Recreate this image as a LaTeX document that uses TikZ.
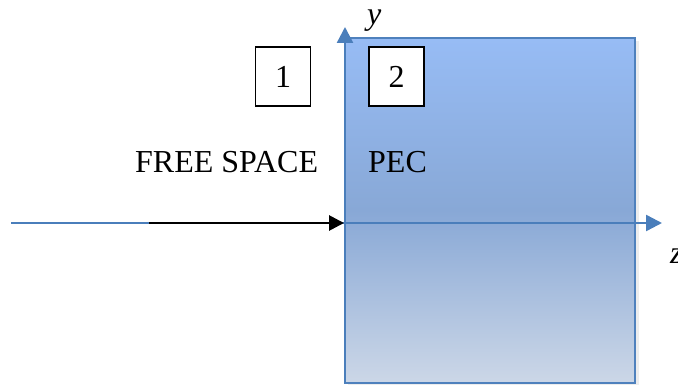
\documentclass[tikz,border=0pt]{standalone}
\usepackage{fontspec}
\setmainfont{Liberation Serif}
\usetikzlibrary{arrows.meta}
\definecolor{axisblue}{HTML}{4A7EBB}
\definecolor{edgeblue}{HTML}{4F81BD}
\definecolor{pectop}{HTML}{97BCF5}
\definecolor{pecmid}{HTML}{88A8D6}
\definecolor{pecbot}{HTML}{CCD7E7}
\tikzset{
  axis/.style={draw=axisblue, line width=2.4pt, -{Triangle[length=16pt,width=16pt]}},
  wave/.style={draw=black, line width=2.8pt, -{Triangle[length=15pt,width=15pt]}},
  labelbox/.style={draw=black, line width=1.3pt, fill=white, minimum width=55pt, minimum height=59pt, inner sep=0pt},
  txt/.style={font=\fontsize{32}{38}\selectfont, inner sep=0pt},
}
\begin{document}
\begin{tikzpicture}[x=1pt,y=-1pt]
  \useasboundingbox (0,0) rectangle (678,385);
  % conductor block with faint shadow
  \fill[black!7] (348,41) rectangle (639,386);
  \shade[top color=pectop, bottom color=pecbot, middle color=pecmid] (345,38) rectangle (635,383);
  \draw[edgeblue, line width=2.4pt] (345,38) rectangle (635,383);
  % axes
  \coordinate (zstart) at (11,223);
  \coordinate (zend) at (662,223);
  \coordinate (ystart) at (345,383);
  \coordinate (yend) at (345,27);
  \coordinate (wavestart) at (149,223);
  \coordinate (interface) at (344,223);
  \draw[axis] (zstart) -- (zend);
  \draw[axis] (ystart) -- (yend);
  \draw[wave] (wavestart) -- (interface);
  % region labels
  \node[labelbox, txt] (r1) at (283,76.5) {1};
  \node[labelbox, txt] (r2) at (396.5,76.5) {2};
  \node[txt, anchor=base west] (free) at (135,173) {FREE SPACE};
  \node[txt, anchor=base west] (pectext) at (368,173) {PEC};
  \node[txt, anchor=base west] (ylab) at (367,25) {\itshape y};
  \node[txt, anchor=base west] (zlab) at (670,263) {\itshape z};
\end{tikzpicture}
\end{document}
